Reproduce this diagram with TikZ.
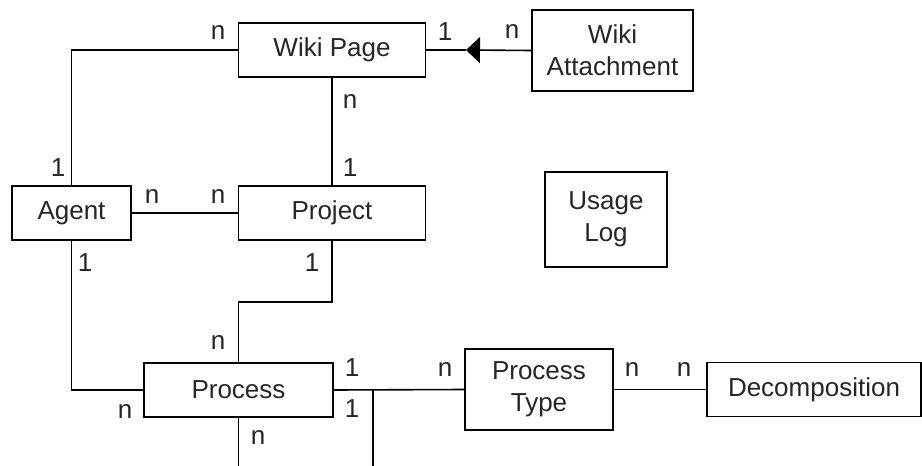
\documentclass[tikz,border=0pt]{standalone}
\usepackage{fontspec}
\setmainfont{Liberation Sans}
\usepackage{tikz}
\usetikzlibrary{positioning}
\usetikzlibrary{shapes,arrows,calc,arrows.meta}

\tikzset{
  entity/.style={draw, line width=1.6pt, inner sep=0pt, align=center,
    font=\fontsize{26}{32}\selectfont, text=black!85},
  card/.style={font=\fontsize{26}{30}\selectfont, text=black!85, inner sep=0pt},
  link/.style={line width=1.6pt}
}

\begin{document}
\begin{tikzpicture}[x=1pt,y=-1pt]
  \useasboundingbox[fill=white] (0,0) rectangle (922,466);

  % Draw the entities
  \node[entity, minimum width=187pt, minimum height=54pt] (wiki) at (332,50) {Wiki Page};
  \node[entity, minimum width=161pt, minimum height=81pt] (attach) at (612.5,50.5) {Wiki\\Attachment};
  \node[entity, minimum width=119pt, minimum height=54pt] (agent) at (71.5,213) {Agent};
  \node[entity, minimum width=187pt, minimum height=54pt] (project) at (332,213) {Project};
  \node[entity, minimum width=122pt, minimum height=95pt] (usage) at (606,219.5) {Usage\\Log};
  \node[entity, minimum width=189pt, minimum height=54pt] (process) at (238.5,390) {Process};
  \node[entity, minimum width=148pt, minimum height=81pt] (ptype) at (539,389.5) {Process\\Type};
  \node[entity, minimum width=214pt, minimum height=54pt] (decomp) at (814,389.5) {Decomposition};

  % Points for the arrow and the open ends
  \coordinate (tip) at (466,50);
  \coordinate (split) at (373,390);
  \coordinate (splitend) at (373,470);
  \coordinate (procend) at (238.5,470);

  % Draw the relations
  \draw[link] (agent.north) |- (wiki.west);
  \draw[link] (wiki.south) -- (project.north);
  \draw[link] (agent.east) -- (project.west);
  \draw[link] (agent.south) |- (process.west);
  \draw[link] (project.south) -- ++(0,61) -| (process.north);
  \draw[link] (process.east) -- (ptype.west);
  \draw[link] (ptype.east) -- (decomp.west);
  \draw[link] (split) -- (splitend);
  \draw[link] (process.south) -- (procend);
  \draw[link, -{Triangle[length=14pt,width=26pt]}] (attach.west) -- (tip);
  \draw[link] (tip) -- (wiki.east);

  % Add the cardinalities
  \node[card] (c1) at (218,33) {n};
  \node[card] (c2) at (445,32) {1};
  \node[card] (c3) at (512,32) {n};
  \node[card] (c4) at (350,102) {n};
  \node[card] (c5) at (350,168) {1};
  \node[card] (c6) at (58,168) {1};
  \node[card] (c7) at (152,197) {n};
  \node[card] (c8) at (218,197) {n};
  \node[card] (c9) at (85,263) {1};
  \node[card] (c10) at (312,263) {1};
  \node[card] (c11) at (218,343) {n};
  \node[card] (c12) at (352,368) {1};
  \node[card] (c13) at (445,370) {n};
  \node[card] (c14) at (125,412) {n};
  \node[card] (c15) at (352,409) {1};
  \node[card] (c16) at (258,438) {n};
  \node[card] (c17) at (632,370) {n};
  \node[card] (c18) at (684,370) {n};
\end{tikzpicture}
\end{document}
